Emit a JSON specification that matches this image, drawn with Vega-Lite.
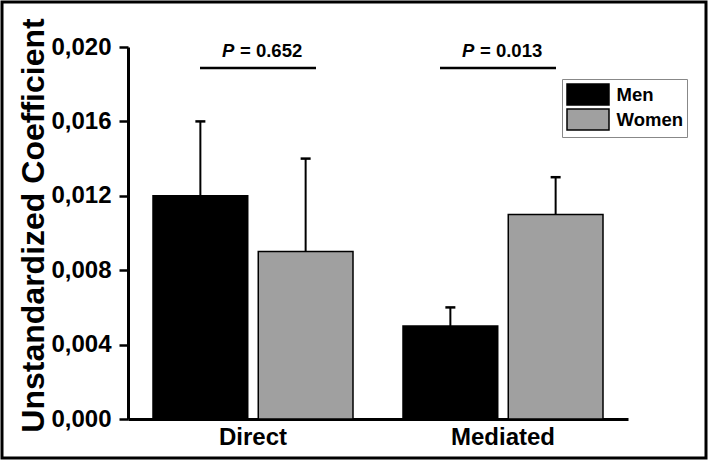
{
  "$schema": "https://vega.github.io/schema/vega-lite/v6.json",
  "width": 704,
  "height": 456,
  "autosize": {"type": "none"},
  "padding": {"left": 2, "top": 2, "right": 3, "bottom": 3},
  "background": "white",
  "config": {
    "view": {"stroke": "black", "strokeWidth": 3},
    "font": "Liberation Sans",
    "axisY": {
      "offset": -126,
      "grid": false,
      "domainColor": "black",
      "domainWidth": 3,
      "tickColor": "black",
      "tickWidth": 2.5,
      "tickSize": 9,
      "labelFontSize": 24,
      "labelFontWeight": "bold",
      "labelColor": "black",
      "labelPadding": 8,
      "titleFontSize": 32,
      "titleFontWeight": "bold",
      "titleColor": "black",
      "titlePadding": 0
    },
    "axisX": {
      "offset": -39,
      "grid": false,
      "domainColor": "black",
      "domainWidth": 3,
      "ticks": false,
      "labelFontSize": 24,
      "labelFontWeight": "bold",
      "labelColor": "black",
      "labelPadding": 6,
      "labelAngle": 0
    }
  },
  "datasets": {
    "bars": [
      {"effect": "Direct", "sex": "Men", "value": 0.012, "upper": 0.016},
      {"effect": "Direct", "sex": "Women", "value": 0.009, "upper": 0.014},
      {"effect": "Mediated", "sex": "Men", "value": 0.005, "upper": 0.006},
      {"effect": "Mediated", "sex": "Women", "value": 0.011, "upper": 0.013}
    ],
    "notes": [
      {"effect": "Direct", "line": 0.01887, "texty": 0.01946, "p": "P", "rest": "= 0.652"},
      {"effect": "Mediated", "line": 0.01887, "texty": 0.01946, "p": "P", "rest": "= 0.013"}
    ]
  },
  "encoding": {
    "x": {
      "field": "effect",
      "type": "nominal",
      "sort": ["Direct", "Mediated"],
      "scale": {"range": [126, 626], "paddingInner": 0.2, "paddingOuter": 0.1},
      "axis": {"title": null}
    }
  },
  "layer": [
    {
      "data": {"name": "bars"},
      "mark": {"type": "bar", "stroke": "black", "strokeWidth": 1.5},
      "encoding": {
        "xOffset": {"field": "sex", "type": "nominal", "sort": ["Men", "Women"], "scale": {"paddingInner": 0.1, "paddingOuter": 0}},
        "y": {
          "field": "value",
          "type": "quantitative",
          "scale": {"domain": [0, 0.02], "range": [417, 45], "nice": false, "zero": true},
          "axis": {
            "title": "Unstandardized Coefficient",
            "values": [0, 0.004, 0.008, 0.012, 0.016, 0.02],
            "labelExpr": "replace(format(datum.value, '.3f'), '.', ',')",
            "titleY": 223
          }
        },
        "color": {
          "field": "sex",
          "type": "nominal",
          "scale": {"domain": ["Men", "Women"], "range": ["#000000", "#a0a0a0"]},
          "legend": {
            "title": null,
            "orient": "none",
            "legendX": 560,
            "legendY": 77,
            "fillColor": "white",
            "strokeColor": "#888888",
            "padding": 4,
            "symbolType": "M-2,-1H2V1H-2Z",
            "symbolSize": 441,
            "symbolOffset": 10.5,
            "symbolStrokeColor": "black",
            "symbolStrokeWidth": 1.5,
            "symbolOpacity": 1,
            "labelFontSize": 18.5,
            "labelFontWeight": "bold",
            "labelColor": "black",
            "labelOffset": 17,
            "rowPadding": -3
          }
        }
      }
    },
    {
      "data": {"name": "bars"},
      "mark": {"type": "rule", "color": "black", "strokeWidth": 2},
      "encoding": {
        "xOffset": {"field": "sex", "type": "nominal", "sort": ["Men", "Women"], "scale": {"paddingInner": 0.1, "paddingOuter": 0}},
        "y": {"field": "value", "type": "quantitative", "scale": {"domain": [0, 0.02], "range": [417, 45], "nice": false, "zero": true}},
        "y2": {"field": "upper"}
      }
    },
    {
      "data": {"name": "bars"},
      "mark": {"type": "tick", "color": "black", "size": 10, "thickness": 2.5, "orient": "horizontal", "opacity": 1},
      "encoding": {
        "xOffset": {"field": "sex", "type": "nominal", "sort": ["Men", "Women"], "scale": {"paddingInner": 0.1, "paddingOuter": 0}},
        "y": {"field": "upper", "type": "quantitative", "scale": {"domain": [0, 0.02], "range": [417, 45], "nice": false, "zero": true}}
      }
    },
    {
      "data": {"name": "notes"},
      "transform": [{"filter": "datum.effect == 'Direct'"}],
      "layer": [
        {
          "mark": {"type": "tick", "color": "black", "size": 116, "thickness": 2.5, "orient": "horizontal", "opacity": 1, "xOffset": 5},
          "encoding": {
            "y": {"field": "line", "type": "quantitative", "scale": {"domain": [0, 0.02], "range": [417, 45], "nice": false, "zero": true}}
          }
        },
        {
          "mark": {"type": "text", "fontSize": 18.5, "fontWeight": "bold", "fontStyle": "italic", "align": "left", "baseline": "alphabetic", "dx": -31, "color": "black"},
          "encoding": {
            "y": {"field": "texty", "type": "quantitative", "scale": {"domain": [0, 0.02], "range": [417, 45], "nice": false, "zero": true}},
            "text": {"field": "p"}
          }
        },
        {
          "mark": {"type": "text", "fontSize": 18.5, "fontWeight": "bold", "align": "left", "baseline": "alphabetic", "dx": -13, "color": "black"},
          "encoding": {
            "y": {"field": "texty", "type": "quantitative", "scale": {"domain": [0, 0.02], "range": [417, 45], "nice": false, "zero": true}},
            "text": {"field": "rest"}
          }
        }
      ]
    },
    {
      "data": {"name": "notes"},
      "transform": [{"filter": "datum.effect == 'Mediated'"}],
      "layer": [
        {
          "mark": {"type": "tick", "color": "black", "size": 116, "thickness": 2.5, "orient": "horizontal", "opacity": 1, "xOffset": -5},
          "encoding": {
            "y": {"field": "line", "type": "quantitative", "scale": {"domain": [0, 0.02], "range": [417, 45], "nice": false, "zero": true}}
          }
        },
        {
          "mark": {"type": "text", "fontSize": 18.5, "fontWeight": "bold", "fontStyle": "italic", "align": "left", "baseline": "alphabetic", "dx": -41, "color": "black"},
          "encoding": {
            "y": {"field": "texty", "type": "quantitative", "scale": {"domain": [0, 0.02], "range": [417, 45], "nice": false, "zero": true}},
            "text": {"field": "p"}
          }
        },
        {
          "mark": {"type": "text", "fontSize": 18.5, "fontWeight": "bold", "align": "left", "baseline": "alphabetic", "dx": -23, "color": "black"},
          "encoding": {
            "y": {"field": "texty", "type": "quantitative", "scale": {"domain": [0, 0.02], "range": [417, 45], "nice": false, "zero": true}},
            "text": {"field": "rest"}
          }
        }
      ]
    }
  ]
}
